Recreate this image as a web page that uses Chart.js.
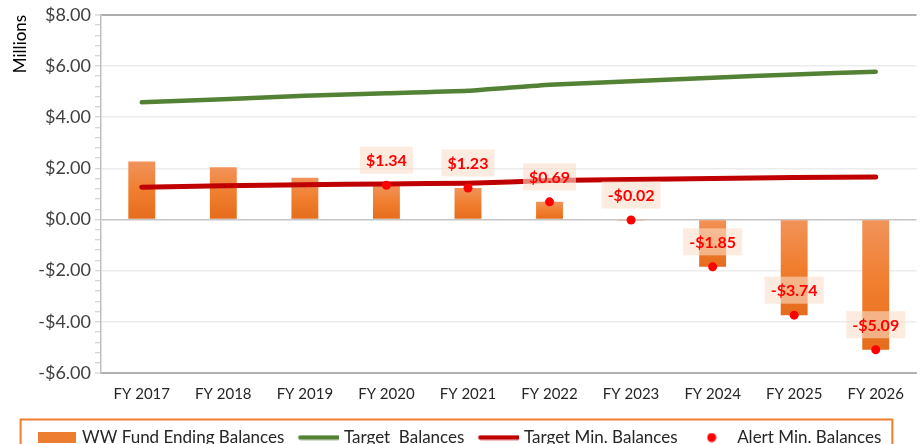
<!DOCTYPE html>
<html>
<head>
<meta charset="utf-8">
<script src="https://cdn.jsdelivr.net/npm/chart.js@4"></script>
<style>
  html, body { margin: 0; padding: 0; background: #fff; overflow: hidden; }
  #wrap { position: relative; width: 921px; height: 456px; }
</style>
</head>
<body>
<div id="wrap"><canvas id="chart"></canvas></div>
<script>
var years = ["FY 2017", "FY 2018", "FY 2019", "FY 2020", "FY 2021", "FY 2022", "FY 2023", "FY 2024", "FY 2025", "FY 2026"];
var fundBalances = [2.27, 2.04, 1.63, 1.34, 1.23, 0.69, -0.02, -1.85, -3.74, -5.09];
var targetBalances = [4.58, 4.70, 4.84, 4.93, 5.03, 5.27, 5.40, 5.54, 5.67, 5.77];
var targetMinBalances = [1.26, 1.32, 1.36, 1.39, 1.42, 1.52, 1.56, 1.60, 1.64, 1.66];
var alertMinBalances = [null, null, null, 1.34, 1.23, 0.69, -0.02, -1.85, -3.74, -5.09];
var yTickLabels = ["-$6.00", "-$4.00", "-$2.00", "$0.00", "$2.00", "$4.00", "$6.00", "$8.00"];

var FONT = "Lato, 'Open Sans', sans-serif";

function fmtMoney(v) {
  return (v < 0 ? "-$" : "$") + Math.abs(v).toFixed(2);
}
function isMajor(v) {
  return Math.abs(v / 2 - Math.round(v / 2)) < 1e-6;
}

// little pictures for the legend markers
function legendIcon(kind, color) {
  var c = document.createElement("canvas");
  var g;
  if (kind === "box") {
    c.width = 38; c.height = 11;
    g = c.getContext("2d");
    g.fillStyle = color;
    g.fillRect(0, 0, 38, 11);
  } else if (kind === "line") {
    c.width = 42; c.height = 6;
    g = c.getContext("2d");
    g.strokeStyle = color;
    g.lineWidth = 4.5;
    g.lineCap = "round";
    g.beginPath(); g.moveTo(3, 3); g.lineTo(41, 3); g.stroke();
  } else {
    c.width = 10; c.height = 10;
    g = c.getContext("2d");
    g.fillStyle = color;
    g.beginPath(); g.arc(5, 5, 4.5, 0, Math.PI * 2); g.fill();
  }
  return c;
}

function barGradient(context) {
  var chart = context.chart;
  if (!chart.chartArea || context.parsed === undefined) return "#ED7D31";
  var y = chart.scales.y;
  var v = context.parsed.y;
  var a = y.getPixelForValue(Math.max(v, 0));
  var b = y.getPixelForValue(Math.min(v, 0));
  if (b - a < 1) b = a + 1;
  var grad = chart.ctx.createLinearGradient(0, a, 0, b);
  grad.addColorStop(0, "#F1935A");
  grad.addColorStop(0.5, "#F07E2E");
  grad.addColorStop(1, "#E56C1C");
  return grad;
}

var alertLabels = {
  id: "alertLabels",
  afterDatasetsDraw: function(chart) {
    var ctx = chart.ctx;
    var meta = chart.getDatasetMeta(3);
    ctx.save();
    ctx.font = "bold 16px " + FONT;
    ctx.textAlign = "center";
    ctx.textBaseline = "middle";
    meta.data.forEach(function(pt, i) {
      var v = alertMinBalances[i];
      if (v === null) return;
      var txt = fmtMoney(v);
      var w = ctx.measureText(txt).width + 12;
      var h = 27;
      var cy = pt.y - 25;
      ctx.fillStyle = "rgba(250, 222, 202, 0.6)";
      ctx.fillRect(pt.x - w / 2, cy - h / 2, w, h);
      ctx.fillStyle = "#FF0000";
      ctx.fillText(txt, pt.x, cy + 1);
    });
    ctx.restore();
  }
};

var legendFrame = {
  id: "legendFrame",
  afterDraw: function(chart) {
    var boxes = chart.legend.legendHitBoxes;
    if (!boxes || !boxes.length) return;
    var first = boxes[0], last = boxes[boxes.length - 1];
    var cy = first.top + first.height / 2;
    var ctx = chart.ctx;
    ctx.save();
    ctx.strokeStyle = "#ED7D31";
    ctx.lineWidth = 2;
    ctx.strokeRect(first.left - 19, cy - 18, last.left + last.width - first.left + 30, 40);
    ctx.restore();
  }
};

var config = {
  type: "bar",
  data: {
    labels: years,
    datasets: [
      {
        type: "bar",
        label: "WW Fund Ending Balances",
        data: fundBalances,
        backgroundColor: barGradient,
        borderWidth: 0,
        categoryPercentage: 1,
        barPercentage: 0.33,
        order: 4
      },
      {
        type: "line",
        label: "Target  Balances",
        data: targetBalances,
        borderColor: "#548235",
        borderWidth: 4.5,
        borderCapStyle: "round",
        pointRadius: 0,
        tension: 0.15,
        order: 3
      },
      {
        type: "line",
        label: "Target Min. Balances",
        data: targetMinBalances,
        borderColor: "#C00000",
        borderWidth: 5,
        borderCapStyle: "round",
        pointRadius: 0,
        tension: 0.15,
        order: 2
      },
      {
        type: "line",
        label: "Alert Min. Balances",
        data: alertMinBalances,
        showLine: false,
        pointRadius: 4.5,
        pointBackgroundColor: "#FF0000",
        pointBorderWidth: 0,
        order: 1
      }
    ]
  },
  options: {
    responsive: true,
    maintainAspectRatio: false,
    animation: false,
    layout: { padding: { top: 8, right: 0, left: 0, bottom: 0 } },
    plugins: {
      tooltip: { enabled: false },
      legend: {
        position: "bottom",
        labels: {
          usePointStyle: true,
          pointStyleWidth: 34,
          padding: 17,
          color: "#262626",
          font: { family: FONT, size: 17 },
          generateLabels: function(chart) {
            return [
              { text: "WW Fund Ending Balances", pointStyle: legendIcon("box", "#ED7D31"), datasetIndex: 0, fontColor: "#262626" },
              { text: "Target  Balances", pointStyle: legendIcon("line", "#548235"), datasetIndex: 1, fontColor: "#262626" },
              { text: "Target Min. Balances", pointStyle: legendIcon("line", "#C00000"), datasetIndex: 2, fontColor: "#262626" },
              { text: "Alert Min. Balances", pointStyle: legendIcon("dot", "#FF0000"), datasetIndex: 3, fontColor: "#262626" }
            ];
          }
        }
      }
    },
    scales: {
      x: {
        grid: { display: false },
        border: { display: true, color: "#b3b3b3", width: 1.5 },
        ticks: { color: "#262626", font: { family: FONT, size: 15 }, padding: 4, maxRotation: 0 },
        afterFit: function(scale) { scale.height = 39; }
      },
      y: {
        min: -6,
        max: 8,
        border: { display: true, color: "#bfbfbf", width: 1.5 },
        grid: {
          color: function(c) {
            var v = c.tick.value;
            if (!isMajor(v)) return "rgba(0,0,0,0)";
            if (Math.abs(v) < 1e-6) return "#c4c4c4";
            if (v >= 8 || v <= -6) return "#adadad";
            return "#ececec";
          },
          lineWidth: function(c) {
            var v = c.tick.value;
            return (v >= 8 || v <= -6) ? 2 : 1.5;
          },
          tickColor: "#c8c8c8",
          tickLength: 6,
          tickWidth: 1
        },
        ticks: {
          stepSize: 0.4,
          autoSkip: false,
          padding: 4,
          color: "#404040",
          font: { family: FONT, size: 18 },
          callback: function(v) {
            return isMajor(v) ? yTickLabels[Math.round((v + 6) / 2)] : "";
          }
        },
        title: {
          display: true,
          text: "Millions",
          align: "end",
          color: "#000",
          font: { family: FONT, size: 17 },
          padding: { top: 10, bottom: 4 }
        },
        afterFit: function(scale) { scale.width = 101; }
      }
    }
  },
  plugins: [alertLabels, legendFrame]
};

window.onload = function() {
  var ctx = document.getElementById("chart").getContext("2d");
  window.myChart = new Chart(ctx, config);
};
</script>
</body>
</html>
